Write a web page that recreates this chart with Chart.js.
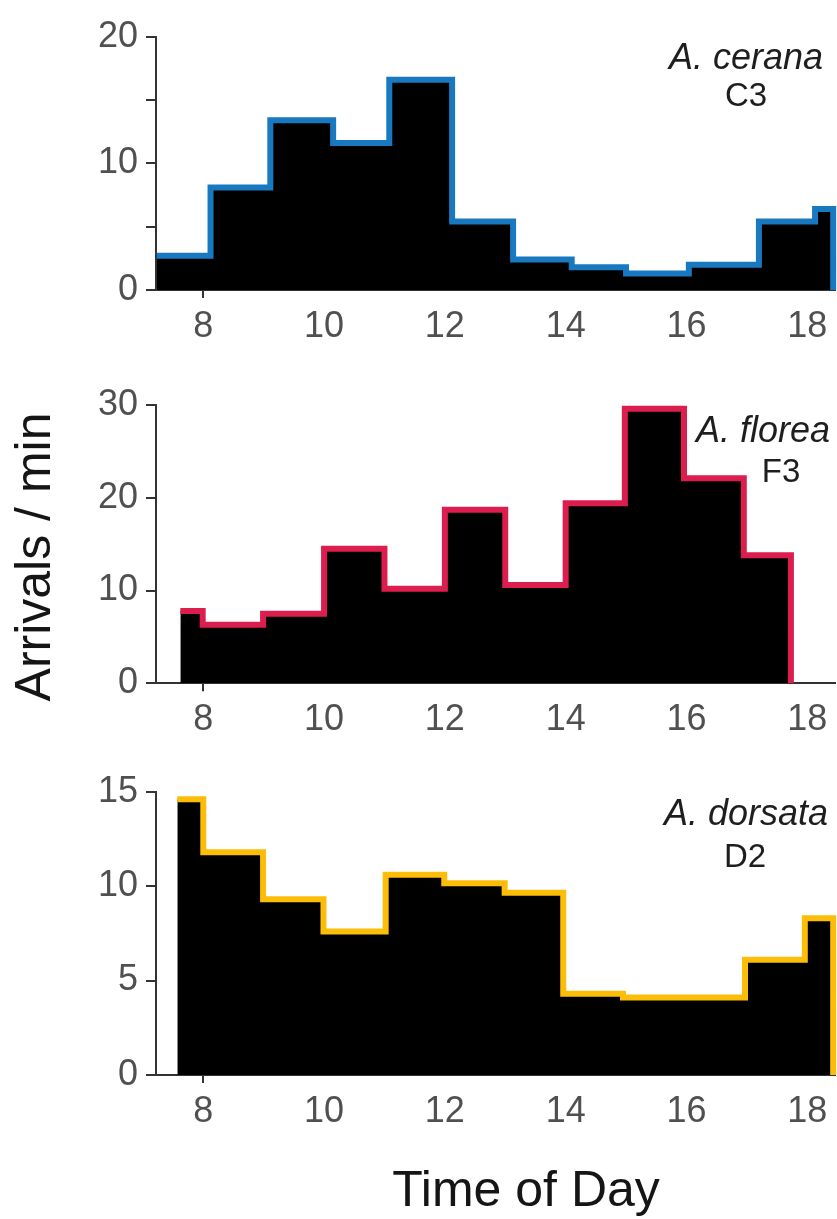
<!DOCTYPE html>
<html>
<head>
<meta charset="utf-8">
<script src="https://cdn.jsdelivr.net/npm/chart.js@4.4.1/dist/chart.umd.min.js"></script>
<style>
  html, body { margin: 0; padding: 0; background: #fff; }
  #wrap { position: relative; width: 837px; height: 1219px; overflow: hidden; font-family: "Liberation Sans", Arial, sans-serif; }
  canvas { position: absolute; left: 0; }
  .title { position: absolute; font-size: 50px; line-height: 50px; height: 50px; color: #151515; text-align: center; white-space: nowrap; }
</style>
</head>
<body>
<div id="wrap">
  <canvas id="c1" width="837" height="360" style="top:0px"></canvas>
  <canvas id="c2" width="837" height="400" style="top:360px"></canvas>
  <canvas id="c3" width="837" height="459" style="top:760px"></canvas>
  <div class="title" style="left:-167px; top:532px; width:400px; transform:rotate(-90deg);">Arrivals / min</div>
  <div class="title" style="left:326px; top:1164px; width:400px;">Time of Day</div>
</div>
<script>
// ---- data ----
const xTickValues = [8, 10, 12, 14, 16, 18];

// A. cerana C3 : bin edges (hour of day) and arrivals / min
const ceranaEdges  = [7.23, 8.12, 9.11, 10.15, 11.08, 12.12, 13.13, 14.1, 15.0, 16.04, 17.2, 18.13, 18.43];
const ceranaValues = [2.7, 8.1, 13.4, 11.6, 16.6, 5.4, 2.4, 1.8, 1.3, 2.0, 5.4, 6.4];
const ceranaTicks  = [0, 5, 10, 15, 20];
const ceranaLabeled = [0, 10, 20];

// A. florea F3
const floreaEdges  = [7.62, 7.99, 8.99, 10.0, 11.0, 12.0, 13.0, 14.0, 14.98, 15.96, 16.95, 17.73];
const floreaValues = [7.8, 6.3, 7.5, 14.5, 10.2, 18.7, 10.6, 19.4, 29.6, 22.1, 13.8];
const floreaTicks  = [0, 10, 20, 30];
const floreaLabeled = [0, 10, 20, 30];

// A. dorsata D2
const dorsataEdges  = [7.57, 8.0, 8.99, 9.99, 11.02, 11.99, 12.99, 13.96, 14.95, 15.96, 16.97, 17.96, 18.43];
const dorsataValues = [14.6, 11.8, 9.3, 7.6, 10.6, 10.15, 9.65, 4.3, 4.1, 4.1, 6.1, 8.3];
const dorsataTicks  = [0, 5, 10, 15];
const dorsataLabeled = [0, 5, 10, 15];

Chart.defaults.font.family = '"Liberation Sans", Arial, sans-serif';

function stepPoints(edges, values) {
  const pts = values.map((v, i) => ({ x: edges[i], y: v }));
  pts.push({ x: edges[edges.length - 1], y: 0 });
  return pts;
}

const labelPlugin = {
  id: 'speciesLabel',
  afterDraw(chart) {
    const o = chart.options.plugins.speciesLabel;
    if (!o) return;
    const ctx = chart.ctx;
    ctx.save();
    ctx.fillStyle = '#1e1e1e';
    ctx.textAlign = 'center';
    ctx.textBaseline = 'alphabetic';
    ctx.font = 'italic 36px "Liberation Sans", Arial, sans-serif';
    ctx.fillText(o.species, o.sx, o.sy);
    ctx.font = '33px "Liberation Sans", Arial, sans-serif';
    ctx.fillText(o.code, o.cx, o.cy);
    ctx.restore();
  }
};

function makePanel(id, edges, values, color, yMax, yTicks, yLabeled, padTop, padBottom, label) {
  return new Chart(document.getElementById(id), {
    type: 'line',
    data: {
      datasets: [{
        data: stepPoints(edges, values),
        stepped: 'before',
        borderColor: color,
        borderWidth: 6,
        borderJoinStyle: 'miter',
        borderCapStyle: 'butt',
        backgroundColor: '#000',
        fill: 'origin',
        pointRadius: 0,
        tension: 0,
        clip: 4
      }]
    },
    plugins: [labelPlugin],
    options: {
      responsive: false,
      animation: false,
      events: [],
      layout: { padding: { top: padTop, right: 2, bottom: padBottom, left: 0 } },
      plugins: {
        legend: { display: false },
        tooltip: { enabled: false },
        speciesLabel: label
      },
      scales: {
        x: {
          type: 'linear',
          min: 7.217,
          max: 18.46,
          afterBuildTicks: s => { s.ticks = xTickValues.map(v => ({ value: v })); },
          afterFit: s => { s.height = 50; },
          ticks: { font: { size: 36 }, color: '#505050', padding: 7, autoSkip: false, maxRotation: 0 },
          grid: {
            drawOnChartArea: false,
            tickLength: 8,
            lineWidth: 2,
            color: c => (c.tick && c.tick.value === 8) ? '#333' : 'rgba(0,0,0,0)'
          },
          border: { color: '#333', width: 2 }
        },
        y: {
          min: 0,
          max: yMax,
          afterBuildTicks: s => { s.ticks = yTicks.map(v => ({ value: v })); },
          afterFit: s => { s.width = 156; },
          ticks: {
            font: { size: 36 }, color: '#505050', padding: 8, autoSkip: false,
            callback: v => yLabeled.includes(v) ? String(v) : ''
          },
          grid: { drawOnChartArea: false, tickLength: 10, lineWidth: 2, color: '#333' },
          border: { color: '#333', width: 2 }
        }
      }
    }
  });
}

makePanel('c1', ceranaEdges, ceranaValues, '#1878c0', 20, ceranaTicks, ceranaLabeled, 36.7, 20,
  { species: 'A. cerana', sx: 746, sy: 69, code: 'C3', cx: 746, cy: 106 });
makePanel('c2', floreaEdges, floreaValues, '#dc1e4e', 30, floreaTicks, floreaLabeled, 45, 26.7,
  { species: 'A. florea', sx: 763, sy: 82, code: 'F3', cx: 781, cy: 122 });
makePanel('c3', dorsataEdges, dorsataValues, '#fbbd08', 15, dorsataTicks, dorsataLabeled, 31.7, 94,
  { species: 'A. dorsata', sx: 746, sy: 65, code: 'D2', cx: 745, cy: 107 });
</script>
</body>
</html>
